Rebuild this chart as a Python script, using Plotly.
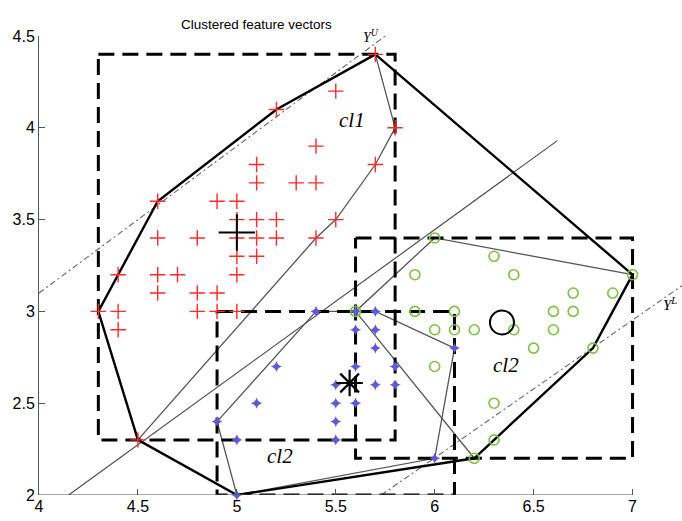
import plotly.graph_objects as go

# ---------------- data ----------------
red_x = [5.7, 5.5, 5.2, 5.8, 5.4, 5.7, 5.1, 5.1, 5.3, 5.4, 4.6, 4.9, 5.0, 5.0, 5.1, 5.2, 5.5,
         4.6, 4.8, 5.0, 5.1, 5.2, 5.4, 5.0, 5.1, 4.4, 4.6, 4.7, 5.0, 4.6, 4.8, 4.9,
         4.3, 4.4, 4.8, 4.9, 5.0, 4.4, 4.5]
red_y = [4.4, 4.2, 4.1, 4.0, 3.9, 3.8, 3.8, 3.7, 3.7, 3.7, 3.6, 3.6, 3.6, 3.5, 3.5, 3.5, 3.5,
         3.4, 3.4, 3.4, 3.4, 3.4, 3.4, 3.3, 3.3, 3.2, 3.2, 3.2, 3.2, 3.1, 3.1, 3.1,
         3.0, 3.0, 3.0, 3.0, 3.0, 2.9, 2.3]

blue_x = [5.4, 5.6, 5.7, 5.6, 5.7, 5.7, 6.1, 5.2, 5.6, 5.8, 5.5, 5.7, 5.8, 5.1, 5.5, 5.6,
          4.9, 5.5, 5.0, 5.5, 6.0, 5.0]
blue_y = [3.0, 3.0, 3.0, 2.9, 2.9, 2.8, 2.8, 2.7, 2.7, 2.7, 2.6, 2.6, 2.6, 2.5, 2.5, 2.5,
          2.4, 2.4, 2.3, 2.3, 2.2, 2.0]

green_x = [6.0, 6.3, 5.9, 6.4, 6.7, 6.9, 7.0, 5.6, 5.9, 6.1, 6.6, 6.7, 6.0, 6.1, 6.2, 6.4,
           6.6, 6.5, 6.8, 6.0, 6.3, 6.3, 6.2]
green_y = [3.4, 3.3, 3.2, 3.2, 3.1, 3.1, 3.2, 3.0, 3.0, 3.0, 3.0, 3.0, 2.9, 2.9, 2.9, 2.9,
           2.9, 2.8, 2.8, 2.7, 2.5, 2.3, 2.2]

centroid_red = (5.0, 3.43)
centroid_blue = (5.57, 2.61)
centroid_green = (6.34, 2.94)

# outer hull (thick)
hull_x = [5.7, 7.0, 6.8, 6.2, 5.0, 4.5, 4.3, 4.6, 5.2, 5.7]
hull_y = [4.4, 3.2, 2.8, 2.2, 2.0, 2.3, 3.0, 3.6, 4.1, 4.4]

# thin cluster-hull segments
red_edge_x = [5.7, 5.8, 5.7, 5.5, 5.4, 4.5]
red_edge_y = [4.4, 4.0, 3.8, 3.5, 3.4, 2.3]
green_edge_x = [6.2, 5.6, 6.0, 7.0]
green_edge_y = [2.2, 3.0, 3.4, 3.2]
blue_edge_x = [5.4, 5.7, 6.1, 6.0, 5.0, 4.9, 5.4]
blue_edge_y = [3.0, 3.0, 2.8, 2.2, 2.0, 2.4, 3.0]
diag_x = [4.15, 6.62]
diag_y = [2.0, 3.93]

# support lines
yu_x = [4.0, 5.8]
yu_y = [3.1, 4.54]
yl_x = [5.73, 7.25]
yl_y = [2.0, 3.14]

# bounding boxes [xmin, xmax, ymin, ymax]
box_cl1 = [4.3, 5.8, 2.3, 4.4]
box_blue = [4.9, 6.1, 2.0, 3.0]
box_green = [5.6, 7.0, 2.2, 3.4]

xticks = [4, 4.5, 5, 5.5, 6, 6.5, 7]
xtick_text = ["4", "4.5", "5", "5.5", "6", "6.5", "7"]
yticks = [2, 2.5, 3, 3.5, 4, 4.5]
ytick_text = ["2", "2.5", "3", "3.5", "4", "4.5"]

labels = [("cl1", 5.58, 4.04), ("cl2", 5.22, 2.21), ("cl2", 6.36, 2.71)]

RED = "#ff2a2a"
BLUE = "#5b5bd6"
GREEN = "#7cc242"

# ---------------- figure ----------------
fig = go.Figure()

def line(x, y, color, width, dash="solid"):
    fig.add_trace(go.Scatter(x=x, y=y, mode="lines",
                             line=dict(color=color, width=width, dash=dash),
                             hoverinfo="skip", showlegend=False))

line(diag_x, diag_y, "#444444", 1.1)
line(red_edge_x, red_edge_y, "#555555", 1.3)
line(green_edge_x, green_edge_y, "#555555", 1.3)
line(blue_edge_x, blue_edge_y, "#555555", 1.3)
line(yu_x, yu_y, "#666666", 1.1, "6px,3px,2px,3px")
line(yl_x, yl_y, "#666666", 1.1, "6px,3px,2px,3px")

for b in (box_cl1, box_blue, box_green):
    bx = [b[0], b[1], b[1], b[0], b[0]]
    by = [b[3], b[3], b[2], b[2], b[3]]
    line(bx, by, "black", 3, "16px,8px")

line(hull_x, hull_y, "black", 2.4)

fig.add_trace(go.Scatter(x=red_x, y=red_y, mode="markers", cliponaxis=False,
                         marker=dict(symbol="cross-thin-open", size=11, color=RED,
                                     line=dict(color=RED, width=1.4)),
                         showlegend=False))
fig.add_trace(go.Scatter(x=blue_x, y=blue_y, mode="markers", cliponaxis=False,
                         marker=dict(symbol="star-diamond", size=8, color=BLUE,
                                     line=dict(width=0)),
                         showlegend=False))
fig.add_trace(go.Scatter(x=green_x, y=green_y, mode="markers", cliponaxis=False,
                         marker=dict(symbol="circle-open", size=10, color=GREEN,
                                     line=dict(color=GREEN, width=1.6)),
                         showlegend=False))

fig.add_trace(go.Scatter(x=[centroid_red[0]], y=[centroid_red[1]], mode="markers",
                         marker=dict(symbol="cross-thin-open", size=26, color="black",
                                     line=dict(color="black", width=2)),
                         showlegend=False))
fig.add_trace(go.Scatter(x=[centroid_blue[0]], y=[centroid_blue[1]], mode="markers",
                         marker=dict(symbol="asterisk-open", size=22, color="black",
                                     line=dict(color="black", width=2.2)),
                         showlegend=False))
fig.add_trace(go.Scatter(x=[centroid_green[0]], y=[centroid_green[1]], mode="markers",
                         marker=dict(symbol="circle-open", size=24, color="black",
                                     line=dict(color="black", width=2)),
                         showlegend=False))

annotations = []
for t, x, y in labels:
    annotations.append(dict(x=x, y=y, text=f"<i>{t}</i>", showarrow=False,
                            font=dict(family="Liberation Serif", size=21, color="black")))
annotations.append(dict(x=5.68, y=4.5, text="<i>Y<sup>U</sup></i>", showarrow=False,
                        yanchor="middle",
                        font=dict(family="Liberation Serif", size=14, color="black")))
annotations.append(dict(x=7.145, y=3.04, text="<i>Y<sup>L</sup></i>", showarrow=False,
                        xanchor="left",
                        font=dict(family="Liberation Serif", size=15, color="black")))
annotations.append(dict(x=5.1, y=1.046, xref="x", yref="paper",
                        text="Clustered feature vectors", showarrow=False,
                        font=dict(family="Liberation Sans", size=13.5, color="black")))

fig.add_shape(type="line", xref="x", yref="y", x0=xticks[0], x1=xticks[-1],
              y0=yticks[0], y1=yticks[0], line=dict(color="#555555", width=1))

fig.update_layout(
    width=682, height=521,
    margin=dict(l=39, r=0, t=36, b=26),
    paper_bgcolor="white", plot_bgcolor="white",
    showlegend=False,
    annotations=annotations,
    font=dict(family="Liberation Sans", size=16, color="black"),
    xaxis=dict(range=[4, 7.25], tickvals=xticks, ticktext=xtick_text,
               showgrid=False, zeroline=False, showline=False,
               ticks="inside", ticklen=6, tickcolor="#555555"),
    yaxis=dict(range=[2, 4.5], tickvals=yticks, ticktext=ytick_text,
               showgrid=False, zeroline=False, showline=True, linecolor="#555555",
               linewidth=1, ticks="inside", ticklen=6, tickcolor="#555555"),
)

fig.write_html("out.html", config={"displayModeBar": False},
               post_script="document.body.style.margin='0px';")
